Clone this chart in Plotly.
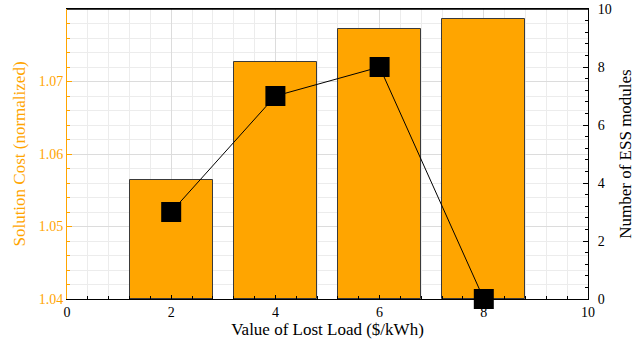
import plotly.graph_objects as go

vll = [2, 4, 6, 8]
solution_cost = [1.0564, 1.0727, 1.0772, 1.0786]
ess_modules = [3, 7, 8, 0]
cost_ticks = [1.04, 1.05, 1.06, 1.07]

ORANGE = "#FFA500"
FONT = "Liberation Serif"

fig = go.Figure()
fig.add_trace(go.Bar(
    x=vll, y=[c - 1.04 for c in solution_cost], base=1.04, width=1.6,
    marker=dict(color=ORANGE, line=dict(color="#3a3a3a", width=1)),
    yaxis="y", showlegend=False,
))
fig.add_trace(go.Scatter(
    x=vll, y=ess_modules, mode="lines+markers", yaxis="y2",
    line=dict(color="black", width=1),
    marker=dict(symbol="square", size=20, color="black"),
    showlegend=False, cliponaxis=False,
))

grid_major = "#dcdcdc"
grid_minor = "#ececec"

fig.update_layout(
    width=635, height=344,
    margin=dict(l=67, r=47, t=9, b=45, autoexpand=False),
    plot_bgcolor="white", paper_bgcolor="white",
    font=dict(family=FONT, size=14, color="black"),
    bargap=0,
    xaxis=dict(
        range=[0, 10], dtick=2, tick0=0, automargin=False,
        ticks="inside", ticklen=4, tickcolor="black",
        showline=True, linecolor="black", linewidth=1, mirror=True,
        showgrid=True, gridcolor=grid_major, gridwidth=1,
        minor=dict(dtick=0.4, tick0=0, ticks="inside", ticklen=3, tickcolor="black",
                   showgrid=True, gridcolor=grid_minor),
        zeroline=False,
        title=dict(text="Value of Lost Load ($/kWh)", font=dict(size=17, family=FONT), standoff=4),
        tickfont=dict(size=14, family=FONT),
    ),
    yaxis=dict(
        range=[1.04, 1.08], tickvals=cost_ticks, automargin=False,
        tickformat=".2f",
        ticks="inside", ticklen=5, tickcolor=ORANGE,
        showline=True, linecolor=ORANGE, linewidth=1,
        showgrid=True, gridcolor=grid_major,
        minor=dict(dtick=0.002, tick0=1.04, ticks="inside", ticklen=3, tickcolor=ORANGE,
                   showgrid=True, gridcolor=grid_minor),
        zeroline=False,
        tickfont=dict(color=ORANGE, size=14, family=FONT),
        title=dict(text="Solution Cost (normalized)", font=dict(color=ORANGE, size=17, family=FONT), standoff=8),
    ),
    yaxis2=dict(
        range=[0, 10], dtick=2, tick0=0, automargin=False,
        overlaying="y", side="right",
        ticks="inside", ticklen=5, tickcolor="black",
        showline=True, linecolor="black", linewidth=1,
        showgrid=False,
        minor=dict(dtick=0.4, ticks="inside", ticklen=3, tickcolor="black"),
        zeroline=False, ticklabelstandoff=6,
        tickfont=dict(color="black", size=14, family=FONT),
        title=dict(text="Number of ESS modules", font=dict(color="black", size=17, family=FONT), standoff=13),
    ),
    shapes=[dict(type="line", xref="paper", yref="paper", x0=0, x1=1, y0=1, y1=1,
                 line=dict(color="black", width=1.5))],
)

fig.write_html("out.html", config={"displayModeBar": False},
               post_script="document.body.style.margin='0';document.body.style.overflow='hidden';")
